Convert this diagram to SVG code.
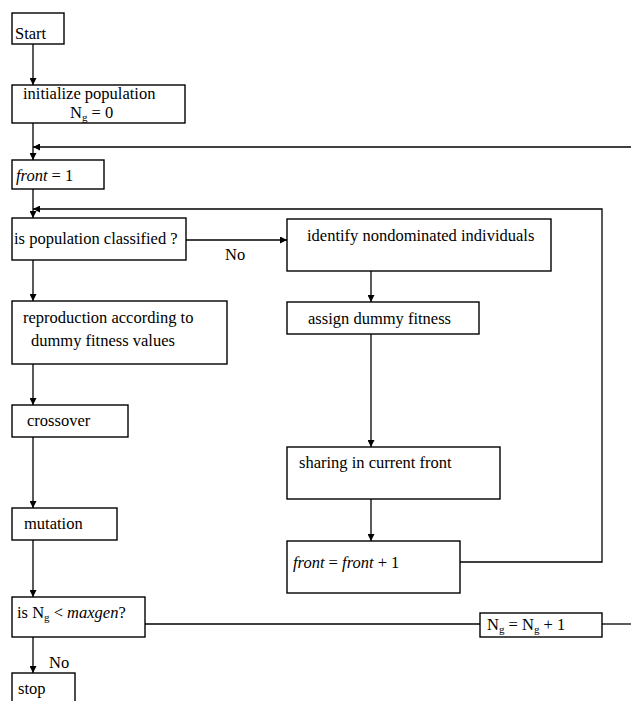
<svg xmlns="http://www.w3.org/2000/svg" width="631" height="701" viewBox="0 0 631 701" font-family="'Liberation Serif', 'DejaVu Serif', serif">
<defs>
<style>
rect.box{fill:#fff;stroke:#000;stroke-width:1.4}
text{font-family:'Liberation Serif','DejaVu Serif',serif;font-size:16.5px;fill:#000}
.it{font-style:italic}
.sub{font-size:11px}
line,polyline{stroke:#000;stroke-width:1.3;fill:none}
</style>
<marker id="ah" viewBox="0 0 10 10" refX="10" refY="5" markerWidth="7" markerHeight="7" markerUnits="userSpaceOnUse" orient="auto">
<path d="M0,0 L10,5 L0,10 z" fill="#000"/>
</marker>
</defs>
<rect width="631" height="701" fill="#fff"/>
<g id="connectors">
<line x1="33" y1="44" x2="33" y2="85" marker-end="url(#ah)"/>
<line x1="33" y1="123" x2="33" y2="160" marker-end="url(#ah)"/>
<line x1="631" y1="147" x2="33" y2="147" marker-end="url(#ah)"/>
<line x1="33" y1="189" x2="33" y2="218" marker-end="url(#ah)"/>
<polyline points="460,562 602,562 602,209 33,209" marker-end="url(#ah)"/>
<line x1="186" y1="240" x2="287" y2="240" marker-end="url(#ah)"/>
<line x1="371" y1="271" x2="371" y2="302" marker-end="url(#ah)"/>
<line x1="371" y1="334" x2="371" y2="447" marker-end="url(#ah)"/>
<line x1="371" y1="499" x2="371" y2="541" marker-end="url(#ah)"/>
<line x1="33" y1="260" x2="33" y2="301" marker-end="url(#ah)"/>
<line x1="33" y1="364" x2="33" y2="405" marker-end="url(#ah)"/>
<line x1="33" y1="437" x2="33" y2="508" marker-end="url(#ah)"/>
<line x1="33" y1="540" x2="33" y2="597" marker-end="url(#ah)"/>
<line x1="145" y1="624" x2="480" y2="624"/>
<line x1="602" y1="624" x2="631" y2="624"/>
<line x1="33" y1="637" x2="33" y2="673" marker-end="url(#ah)"/>
<text x="225" y="260">No</text>
<text x="49" y="668">No</text>
</g>
<g id="start"><rect class="box" x="12" y="13" width="52" height="31"/><text x="15" y="39">Start</text></g>
<g id="init"><rect class="box" x="12" y="85" width="173" height="38"/><text x="23" y="99">initialize population</text><text x="70" y="118">N<tspan class="sub" dy="3">g</tspan><tspan dy="-3"> = 0</tspan></text></g>
<g id="front1"><rect class="box" x="12" y="160" width="92" height="29"/><text x="16" y="181"><tspan class="it">front</tspan> = 1</text></g>
<g id="classified"><rect class="box" x="12" y="218" width="174" height="42"/><text x="14" y="244">is population classified ?</text></g>
<g id="identify"><rect class="box" x="287" y="219" width="264" height="52"/><text x="307" y="241">identify nondominated individuals</text></g>
<g id="assign"><rect class="box" x="287" y="302" width="192" height="32"/><text x="308" y="324">assign dummy fitness</text></g>
<g id="sharing"><rect class="box" x="287" y="447" width="213" height="52"/><text x="299" y="468">sharing in current front</text></g>
<g id="frontinc"><rect class="box" x="287" y="541" width="173" height="52"/><text x="293" y="568"><tspan class="it">front</tspan> = <tspan class="it">front</tspan> + 1</text></g>
<g id="reproduction"><rect class="box" x="12" y="301" width="215" height="63"/><text x="23" y="323">reproduction according to</text><text x="31" y="346">dummy fitness values</text></g>
<g id="crossover"><rect class="box" x="12" y="405" width="116" height="32"/><text x="27" y="426">crossover</text></g>
<g id="mutation"><rect class="box" x="12" y="508" width="105" height="32"/><text x="24" y="529">mutation</text></g>
<g id="maxgen"><rect class="box" x="12" y="597" width="133" height="40"/><text x="17" y="618">is N<tspan class="sub" dy="3">g</tspan><tspan dy="-3"> &lt; </tspan><tspan class="it">maxgen</tspan>?</text></g>
<g id="nginc"><rect class="box" x="480" y="613" width="122" height="24"/><text x="487" y="630">N<tspan class="sub" dy="3">g</tspan><tspan dy="-3"> = N</tspan><tspan class="sub" dy="3">g</tspan><tspan dy="-3"> + 1</tspan></text></g>
<g id="stop"><rect class="box" x="12" y="673" width="63" height="34"/><text x="18" y="694">stop</text></g>
</svg>
